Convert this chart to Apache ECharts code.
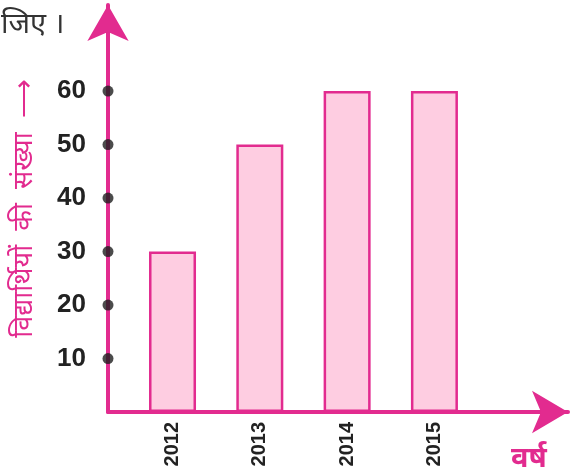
<!DOCTYPE html>
<html>
<head>
<meta charset="utf-8">
<script src="https://cdn.jsdelivr.net/npm/echarts@6/dist/echarts.min.js"></script>
<style>html,body{margin:0;padding:0;background:#fff}#c{width:570px;height:475px}</style>
</head>
<body>
<div id="c"></div>
<script>
var categories = ['2012', '2013', '2014', '2015'];
var values = [30, 50, 60, 60];
var yTicks = [10, 20, 30, 40, 50, 60];
var yAxisName = 'विद्यार्थियों  की  संख्या  ⟶';
var xAxisName = 'वर्ष';
var topText = 'जिए ।';

var PINK = '#E22B8F';
var xMin = 0.261, xMax = 5.53;
var xPos = categories.map(function (c, i) { return i + 1; });

var chart = echarts.init(document.getElementById('c'), null, {renderer: 'canvas'});
chart.setOption({
  animation: false,
  backgroundColor: '#fff',
  title: [
    {text: topText, left: -4, top: 5, textStyle: {fontSize: 29, fontWeight: 'normal', color: '#333', fontFamily: 'Noto Sans, sans-serif'}},
    {text: xAxisName, left: 506, top: 439, textStyle: {fontSize: 29, fontWeight: 'bold', color: PINK, fontFamily: 'Noto Sans, sans-serif'}}
  ],
  grid: {left: 108, right: 2, top: 5, bottom: 63, containLabel: false, outerBoundsMode: 'none'},
  xAxis: {
    type: 'value', min: xMin, max: xMax,
    splitLine: {show: false},
    axisTick: {show: false},
    axisLine: {show: true, lineStyle: {color: PINK, width: 4}, symbol: ['none', 'arrow'], symbolSize: [32, 36]},
    axisLabel: {
      customValues: xPos,
      rotate: 90, margin: 10,
      fontSize: 20, fontWeight: 'bold', color: '#222', fontFamily: 'Arial, Liberation Sans, sans-serif',
      formatter: function (v) { var i = Math.round(v) - 1; return categories[i] || ''; }
    }
  },
  yAxis: {
    type: 'value', min: 0, max: 76.1,
    splitLine: {show: false},
    axisTick: {show: false},
    axisLine: {show: true, lineStyle: {color: PINK, width: 4}, symbol: ['none', 'arrow'], symbolSize: [31, 36]},
    axisLabel: {
      customValues: yTicks, margin: 22,
      fontSize: 26, fontWeight: 'bold', color: '#222', fontFamily: 'Arial, Liberation Sans, sans-serif'
    },
    name: yAxisName, nameLocation: 'middle', nameRotate: 90, nameGap: 60,
    nameTextStyle: {fontSize: 27, color: PINK, fontFamily: 'Noto Sans, sans-serif', padding: [0, 0, 10, 0]}
  },
  series: [
    {
      type: 'bar',
      data: xPos.map(function (x, i) { return [x, values[i]]; }),
      barWidth: 47,
      itemStyle: {color: '#FECDE1', borderColor: PINK, borderWidth: 2.5}
    },
    {
      type: 'scatter', clip: false, z: 5,
      symbol: 'circle', symbolSize: 11,
      itemStyle: {color: '#1e1e1e'},
      data: yTicks.map(function (v) { return [xMin, v]; })
    }
  ]
});
</script>
</body>
</html>
